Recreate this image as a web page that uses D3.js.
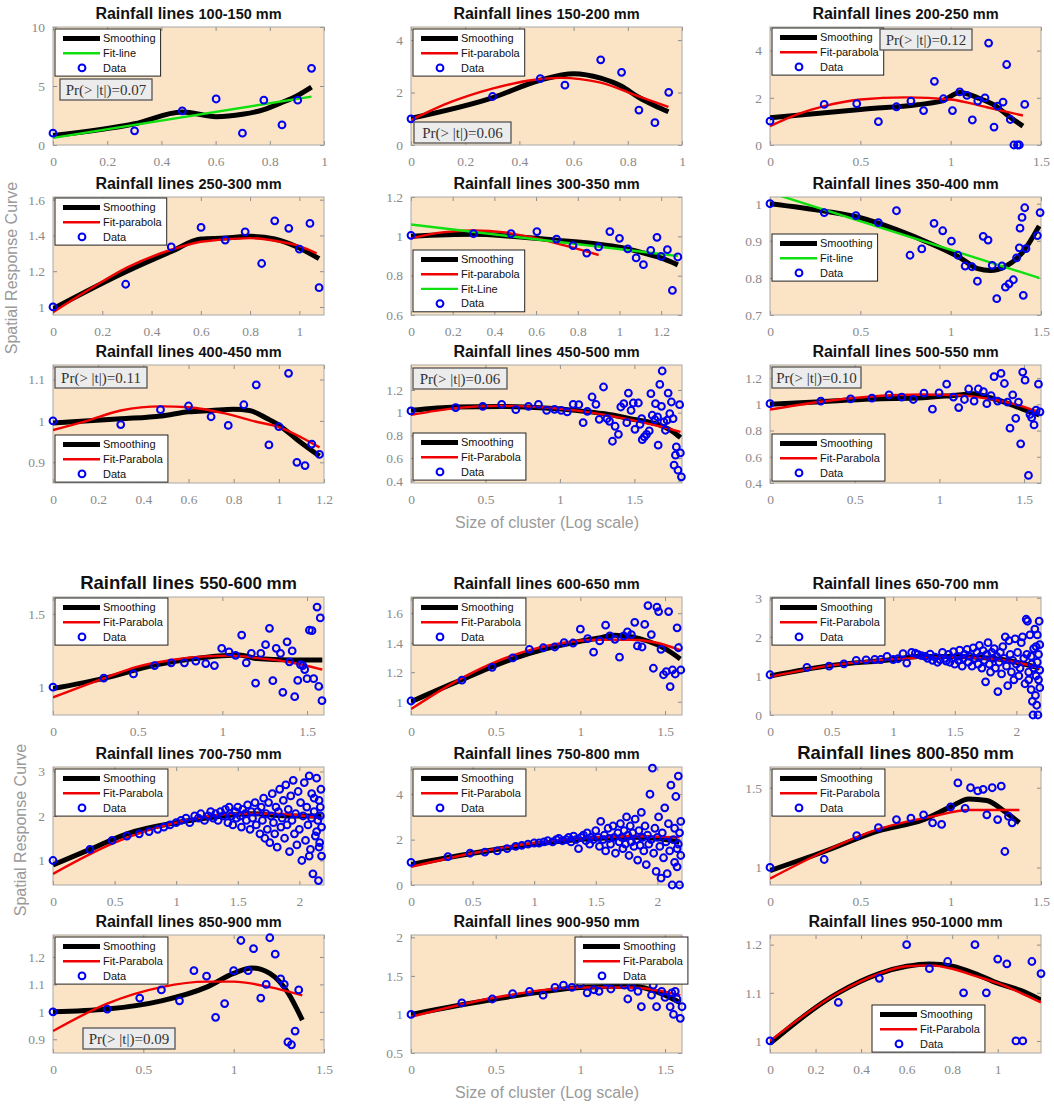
<!DOCTYPE html>
<html>
<head>
<meta charset="utf-8">
<script src="https://cdn.jsdelivr.net/npm/d3@7"></script>
<style>
  body { margin: 0; background: #fff; }
  svg { display: block; font-family: "Liberation Sans", Arial, sans-serif; }
</style>
</head>
<body>
<div id="chart"></div>
<script>
// ---- data (x = log10 cluster size) ----

const ranges = ["100-150", "150-200", "200-250", "250-300", "300-350", "350-400",
  "400-450", "450-500", "500-550", "550-600", "600-650", "650-700",
  "700-750", "750-800", "800-850", "850-900", "900-950", "950-1000"];

// 100-150
const pts100 = [[0,1.0],[0.301,1.2],[0.477,2.9],[0.602,3.9],[0.699,1.0],[0.778,3.8],[0.845,1.7],[0.903,3.8],[0.954,6.5]];
const sm100 = [[0,0.8],[0.301,1.8],[0.477,2.8],[0.602,2.4],[0.699,2.6],[0.778,3.0],[0.845,3.6],[0.903,4.2],[0.954,4.9]];
const fl100 = [[0,0.6],[0.954,4.1]];

// 150-200
const pts150 = [[0,1.0],[0.301,1.85],[0.477,2.53],[0.568,2.28],[0.7,3.25],[0.777,2.77],[0.841,1.33],[0.9,0.85],[0.951,2.01]];
const sm150 = [[0,1.02],[0.3,1.8],[0.476,2.47],[0.6,2.72],[0.7,2.55],[0.777,2.24],[0.84,1.82],[0.9,1.5],[0.95,1.27]];
const fp150 = [[0,0.95],[0.15,1.65],[0.3,2.15],[0.45,2.48],[0.55,2.56],[0.7,2.38],[0.84,1.85],[0.95,1.45]];

// 200-250
const pts200 = [[0,1.01],[0.3,1.72],[0.48,1.75],[0.6,0.99],[0.7,1.62],[0.78,1.86],[0.85,1.46],[0.91,2.7],[0.96,1.96],[1.01,1.46],[1.05,2.25],[1.09,2.1],[1.12,1.06],[1.15,1.86],[1.19,2.0],[1.21,4.32],[1.24,0.76],[1.26,1.65],[1.29,1.82],[1.31,3.41],[1.33,1.08],[1.35,0],[1.37,0],[1.38,0],[1.41,1.72]];
const sm200 = [[0,1.15],[0.5,1.5],[0.95,1.86],[1.05,2.22],[1.15,2.0],[1.25,1.65],[1.32,1.23],[1.4,0.8]];
const fp200 = [[0,0.8],[0.15,1.3],[0.3,1.65],[0.5,1.93],[0.75,2.02],[1.0,1.93],[1.2,1.6],[1.4,1.25]];

// 250-300
const pts250 = [[0,1.0],[0.295,1.127],[0.48,1.336],[0.601,1.445],[0.699,1.374],[0.78,1.42],[0.847,1.243],[0.9,1.482],[0.957,1.44],[1.0,1.323],[1.043,1.467],[1.08,1.108]];
const sm250 = [[0,0.99],[0.3,1.2],[0.48,1.31],[0.6,1.38],[0.7,1.385],[0.8,1.395],[0.9,1.38],[1.0,1.33],[1.08,1.27]];
const fp250 = [[0,0.97],[0.15,1.1],[0.3,1.22],[0.48,1.32],[0.6,1.365],[0.8,1.385],[0.9,1.37],[1.0,1.34],[1.07,1.3]];

// 300-350
const pts300 = [[0,1.005],[0.3,1.014],[0.48,1.014],[0.604,1.024],[0.698,0.986],[0.777,0.953],[0.843,0.915],[0.9,0.946],[0.954,1.024],[1.0,0.99],[1.04,0.936],[1.08,0.89],[1.115,0.856],[1.15,0.929],[1.18,0.995],[1.2,0.898],[1.23,0.932],[1.254,0.725],[1.28,0.895]];
const sm300 = [[0,1.0],[0.3,1.01],[0.48,1.0],[0.7,0.98],[0.9,0.96],[1.0,0.945],[1.1,0.92],[1.2,0.89],[1.28,0.855]];
const fp300 = [[0,0.99],[0.15,1.02],[0.3,1.03],[0.45,1.02],[0.6,0.99],[0.75,0.95],[0.9,0.905]];
const fl300 = [[0,1.06],[1.28,0.9]];

// 350-400
const pts350 = [[0,1.0],[0.3,0.976],[0.476,0.968],[0.6,0.949],[0.7,0.981],[0.775,0.861],[0.84,0.878],[0.908,0.947],[0.956,0.927],[1.004,0.899],[1.04,0.861],[1.08,0.832],[1.118,0.83],[1.148,0.791],[1.18,0.912],[1.207,0.902],[1.23,0.834],[1.255,0.744],[1.284,0.832],[1.303,0.775],[1.323,0.784],[1.347,0.795],[1.365,0.854],[1.38,0.881],[1.384,0.934],[1.395,0.963],[1.402,0.753],[1.41,0.989],[1.417,0.879],[1.48,0.914],[1.495,0.976]];
const sm350 = [[0,1.0],[0.3,0.98],[0.5,0.962],[0.7,0.93],[0.9,0.89],[1.05,0.855],[1.15,0.825],[1.22,0.82],[1.3,0.83],[1.4,0.87],[1.49,0.94]];
const fl350 = [[0,1.03],[1.49,0.8]];

// 400-450
const pts400 = [[0,1.0],[0.3,0.991],[0.476,1.027],[0.6,1.036],[0.7,1.01],[0.776,0.989],[0.845,1.039],[0.9,1.087],[0.956,0.942],[1.0,0.986],[1.043,1.115],[1.08,0.9],[1.116,0.892],[1.146,0.944],[1.18,0.919]];
const sm400 = [[0,0.995],[0.3,1.005],[0.48,1.012],[0.6,1.022],[0.7,1.025],[0.8,1.028],[0.87,1.025],[0.95,1.005],[1.0,0.99],[1.08,0.955],[1.18,0.915]];
const fp400 = [[0,0.978],[0.15,1.0],[0.3,1.025],[0.48,1.035],[0.6,1.033],[0.77,1.017],[0.9,0.998],[1.0,0.985],[1.1,0.96],[1.18,0.936]];

// 450-500
const pts450 = [[0,1.015],[0.3,1.044],[0.482,1.056],[0.609,1.073],[0.704,1.026],[0.789,1.056],[0.856,1.073],[0.911,1.02],[0.964,1.029],[1.009,1.02],[1.049,1.006],[1.089,1.073],[1.127,1.07],[1.156,0.912],[1.184,1.012],[1.216,1.138],[1.242,1.073],[1.264,0.941],[1.293,1.226],[1.316,0.947],[1.333,0.924],[1.353,0.748],[1.371,0.88],[1.393,0.809],[1.409,1.05],[1.429,1.079],[1.449,0.912],[1.46,1.173],[1.478,1.02],[1.493,1.085],[1.504,0.853],[1.527,1.085],[1.538,0.897],[1.549,0.947],[1.553,0.762],[1.567,0.786],[1.582,0.809],[1.6,0.839],[1.611,1.167],[1.62,0.977],[1.638,0.938],[1.642,1.079],[1.656,0.962],[1.66,0.713],[1.671,1.249],[1.682,1.056],[1.687,1.367],[1.698,0.918],[1.709,0.845],[1.72,0.933],[1.727,1.173],[1.738,0.991],[1.749,1.094],[1.76,0.947],[1.767,0.537],[1.776,0.625],[1.782,0.698],[1.793,0.493],[1.804,1.07],[1.809,0.645],[1.816,0.434]];
const sm450 = [[0,1.02],[0.3,1.05],[0.6,1.055],[0.9,1.04],[1.1,1.02],[1.3,0.99],[1.5,0.94],[1.65,0.9],[1.75,0.84],[1.81,0.78]];
const fp450 = [[0,0.98],[0.3,1.04],[0.6,1.06],[0.9,1.045],[1.1,1.02],[1.3,0.98],[1.5,0.93],[1.65,0.885],[1.81,0.83]];

// 500-550
const pts500 = [[0,1.005],[0.3,1.025],[0.476,1.042],[0.602,1.047],[0.703,1.072],[0.778,1.055],[0.846,1.037],[0.909,1.085],[0.959,0.963],[0.998,1.087],[1.043,1.154],[1.083,1.055],[1.114,0.975],[1.148,1.037],[1.173,1.117],[1.205,1.025],[1.23,1.117],[1.26,1.097],[1.28,1.005],[1.305,1.067],[1.323,1.211],[1.344,1.025],[1.364,1.236],[1.384,1.159],[1.402,1.017],[1.417,0.818],[1.433,1.072],[1.451,0.893],[1.467,1.017],[1.48,0.699],[1.492,1.246],[1.506,1.184],[1.526,0.458],[1.535,0.923],[1.545,0.898],[1.559,0.843],[1.571,0.955],[1.585,1.154],[1.594,0.943]];
const sm500 = [[0,1.0],[0.3,1.02],[0.6,1.04],[0.9,1.05],[1.1,1.07],[1.2,1.08],[1.3,1.05],[1.4,1.01],[1.5,0.96],[1.59,0.92]];
const fp500 = [[0,0.96],[0.3,1.02],[0.6,1.06],[0.9,1.075],[1.1,1.07],[1.3,1.04],[1.45,1.0],[1.59,0.94]];

// 550-600
const pts550 = [[0,1.0],[0.3,1.062],[0.475,1.09],[0.6,1.147],[0.698,1.166],[0.776,1.166],[0.843,1.177],[0.902,1.161],[0.953,1.147],[0.996,1.265],[1.039,1.24],[1.078,1.217],[1.114,1.355],[1.141,1.166],[1.171,1.23],[1.196,1.028],[1.227,1.23],[1.255,1.29],[1.278,1.401],[1.298,1.044],[1.318,1.265],[1.343,1.23],[1.357,0.965],[1.382,1.309],[1.396,1.173],[1.412,1.247],[1.427,0.935],[1.445,1.046],[1.461,1.154],[1.475,1.147],[1.486,1.12],[1.5,1.058],[1.514,1.389],[1.529,1.385],[1.539,1.058],[1.559,1.546],[1.569,1.005],[1.578,1.472],[1.588,0.908]];
const sm550 = [[0,0.99],[0.3,1.06],[0.6,1.15],[0.8,1.19],[1.0,1.215],[1.1,1.22],[1.2,1.195],[1.4,1.185],[1.59,1.185]];
const fp550 = [[0,0.93],[0.3,1.06],[0.5,1.14],[0.7,1.185],[0.9,1.21],[1.05,1.215],[1.2,1.2],[1.4,1.17],[1.59,1.12]];

// 600-650
const pts600 = [[0,1.005],[0.301,1.146],[0.479,1.233],[0.601,1.297],[0.699,1.355],[0.781,1.366],[0.849,1.371],[0.904,1.4],[0.957,1.398],[1.0,1.492],[1.043,1.428],[1.078,1.336],[1.114,1.412],[1.149,1.519],[1.174,1.446],[1.204,1.423],[1.231,1.302],[1.256,1.446],[1.278,1.474],[1.301,1.455],[1.321,1.538],[1.337,1.378],[1.364,1.371],[1.38,1.524],[1.399,1.652],[1.419,1.455],[1.431,1.227],[1.452,1.641],[1.462,1.611],[1.476,1.355],[1.491,1.183],[1.507,1.204],[1.521,1.611],[1.53,1.103],[1.544,1.215],[1.56,1.188],[1.571,1.501],[1.579,1.366],[1.593,1.215]];
const sm600 = [[0,1.0],[0.3,1.15],[0.6,1.29],[0.8,1.36],[1.0,1.41],[1.1,1.43],[1.2,1.45],[1.3,1.44],[1.4,1.41],[1.5,1.36],[1.59,1.29]];
const fp600 = [[0,0.95],[0.3,1.16],[0.5,1.27],[0.7,1.35],[0.9,1.4],[1.1,1.42],[1.3,1.42],[1.45,1.4],[1.59,1.35]];

// 650-700
const pts650 = [[0,1.03],[0.3,1.22],[0.48,1.25],[0.6,1.31],[0.7,1.4],[0.78,1.41],[0.85,1.42],[0.9,1.42],[0.95,1.5],[1.0,1.42],[1.04,1.44],[1.08,1.57],[1.11,1.33],[1.15,1.6],[1.18,1.58],[1.2,1.55],[1.23,1.52],[1.26,1.5],[1.28,1.45],[1.3,1.56],[1.32,1.4],[1.34,1.48],[1.36,1.35],[1.38,1.42],[1.4,1.6],[1.42,1.45],[1.43,1.38],[1.45,1.55],[1.46,1.35],[1.48,1.45],[1.49,1.62],[1.5,1.3],[1.52,1.5],[1.53,1.4],[1.54,1.66],[1.56,1.25],[1.57,1.45],[1.58,1.55],[1.6,1.68],[1.61,1.35],[1.62,1.5],[1.64,1.25],[1.65,1.72],[1.66,1.45],[1.68,1.6],[1.69,1.3],[1.7,1.78],[1.71,1.5],[1.72,1.2],[1.73,1.65],[1.74,1.4],[1.75,0.85],[1.76,1.55],[1.77,1.85],[1.78,1.3],[1.79,1.1],[1.8,1.6],[1.81,1.45],[1.82,1.7],[1.83,1.2],[1.84,1.5],[1.85,0.6],[1.86,1.35],[1.87,1.6],[1.88,1.05],[1.89,1.75],[1.9,1.45],[1.91,2.0],[1.92,1.25],[1.93,0.75],[1.94,1.9],[1.95,1.55],[1.96,1.1],[1.97,1.4],[1.98,0.9],[1.99,1.95],[2.0,1.3],[2.01,1.6],[2.02,1.0],[2.03,1.2],[2.04,1.85],[2.05,2.0],[2.06,1.45],[2.07,0.8],[2.08,2.45],[2.085,1.55],[2.09,2.4],[2.1,1.1],[2.11,2.05],[2.12,0.65],[2.125,1.3],[2.13,0.35],[2.135,0.0],[2.14,1.7],[2.15,2.2],[2.155,0.5],[2.16,1.0],[2.165,0.25],[2.17,2.05],[2.175,0.0],[2.18,1.55],[2.185,2.4],[2.19,0.7],[2.19,1.8],[2.19,1.15],[2.18,0.9],[2.17,1.35],[2.16,1.75],[2.14,1.2],[2.12,1.5],[2.1,0.9]];
const sm650 = [[0,1.0],[0.5,1.27],[1.0,1.42],[1.2,1.5],[1.5,1.5],[1.8,1.45],[2.0,1.35],[2.19,1.2]];
const fp650 = [[0,0.98],[0.5,1.27],[1.0,1.43],[1.5,1.48],[1.8,1.44],[2.0,1.35],[2.19,1.2]];

// 700-750
const pts700 = [[0,1.0],[0.3,1.25],[0.48,1.45],[0.6,1.55],[0.7,1.6],[0.78,1.65],[0.85,1.7],[0.9,1.75],[0.95,1.8],[1.0,1.85],[1.04,1.9],[1.08,1.95],[1.11,1.85],[1.15,2.0],[1.18,1.95],[1.2,2.05],[1.23,1.9],[1.26,2.0],[1.28,2.1],[1.3,1.95],[1.32,2.05],[1.34,1.9],[1.36,2.1],[1.38,2.0],[1.4,2.15],[1.42,1.85],[1.43,2.2],[1.45,2.0],[1.46,1.8],[1.48,2.1],[1.49,1.95],[1.5,2.2],[1.52,2.0],[1.53,1.75],[1.54,2.15],[1.56,2.05],[1.57,1.9],[1.58,2.25],[1.6,1.7],[1.61,2.1],[1.62,1.95],[1.64,2.3],[1.65,1.8],[1.66,2.1],[1.68,1.6],[1.69,2.2],[1.7,1.9],[1.71,2.4],[1.72,1.5],[1.73,2.05],[1.74,1.7],[1.75,2.3],[1.76,1.4],[1.77,2.0],[1.78,2.5],[1.79,1.85],[1.8,1.6],[1.81,2.2],[1.82,1.3],[1.83,2.1],[1.84,2.6],[1.85,1.75],[1.86,1.95],[1.87,2.35],[1.88,1.5],[1.89,2.7],[1.9,1.8],[1.91,2.15],[1.92,1.2],[1.93,2.45],[1.94,1.9],[1.95,2.8],[1.96,1.6],[1.97,2.05],[1.98,1.35],[1.99,2.55],[2.0,1.7],[2.01,2.3],[2.02,1.0],[2.03,2.0],[2.04,2.75],[2.05,1.45],[2.06,2.2],[2.07,1.8],[2.08,2.9],[2.09,1.25],[2.1,2.5],[2.11,0.7],[2.12,2.1],[2.13,1.55],[2.14,2.85],[2.15,1.9],[2.155,0.55],[2.16,2.35],[2.165,1.4],[2.17,2.0],[2.175,2.6],[2.18,1.1],[2.18,1.75],[2.17,2.2],[2.16,1.3],[2.14,1.65],[2.12,2.4],[2.1,1.95],[2.08,1.1]];
const sm700 = [[0,0.9],[0.3,1.25],[0.6,1.6],[1.0,1.85],[1.3,1.97],[1.6,2.05],[1.9,2.0],[2.18,2.0]];
const fp700 = [[0,0.7],[0.5,1.4],[1.0,1.85],[1.5,2.05],[1.8,2.05],[2.18,1.95]];

// 750-800
const pts750 = [[0,1.0],[0.3,1.25],[0.48,1.4],[0.6,1.45],[0.7,1.5],[0.78,1.6],[0.85,1.7],[0.9,1.75],[0.95,1.8],[1.0,1.85],[1.04,1.85],[1.08,1.9],[1.11,1.95],[1.15,1.9],[1.18,2.0],[1.2,2.05],[1.23,1.95],[1.26,2.0],[1.28,2.1],[1.3,1.9],[1.32,2.15],[1.34,2.0],[1.36,1.6],[1.38,2.1],[1.4,2.2],[1.42,1.95],[1.43,2.3],[1.45,1.8],[1.46,2.1],[1.48,2.0],[1.5,2.4],[1.52,2.1],[1.53,1.7],[1.54,2.8],[1.56,2.0],[1.57,2.2],[1.58,1.5],[1.6,2.5],[1.61,2.05],[1.62,1.8],[1.64,2.6],[1.65,2.1],[1.66,1.4],[1.68,2.3],[1.69,1.9],[1.7,2.7],[1.71,2.1],[1.72,1.6],[1.73,2.4],[1.74,1.8],[1.75,3.0],[1.76,2.2],[1.77,1.3],[1.78,2.6],[1.79,1.9],[1.8,2.3],[1.81,1.7],[1.82,2.9],[1.83,2.0],[1.84,1.1],[1.85,2.4],[1.86,1.75],[1.87,3.2],[1.88,2.1],[1.89,1.5],[1.9,2.6],[1.91,0.9],[1.92,2.2],[1.93,1.8],[1.94,4.0],[1.95,2.0],[1.96,5.15],[1.97,1.4],[1.98,2.5],[1.99,0.6],[2.0,2.1],[2.01,3.0],[2.02,1.7],[2.03,0.3],[2.04,2.3],[2.05,1.2],[2.06,3.4],[2.07,1.9],[2.08,0.5],[2.09,2.7],[2.1,1.5],[2.11,4.4],[2.12,0.0],[2.13,2.0],[2.14,1.0],[2.15,3.9],[2.16,1.6],[2.17,4.8],[2.18,2.3],[2.18,0.0],[2.19,1.3],[2.19,2.8],[2.17,1.8],[2.16,0.8],[2.14,2.5]];
const sm750 = [[0,0.9],[0.5,1.4],[1.0,1.8],[1.5,2.05],[1.8,2.1],[2.0,2.05],[2.18,1.9]];
const fp750 = [[0,0.8],[0.5,1.4],[1.0,1.85],[1.5,2.1],[1.8,2.15],[2.18,2.1]];

// 800-850
const pts800 = [[0,1.0],[0.3,1.05],[0.48,1.2],[0.6,1.25],[0.7,1.3],[0.78,1.31],[0.85,1.33],[0.9,1.28],[0.95,1.27],[1.0,1.38],[1.04,1.53],[1.08,1.37],[1.11,1.5],[1.15,1.48],[1.18,1.49],[1.2,1.33],[1.23,1.5],[1.26,1.3],[1.28,1.51],[1.3,1.1],[1.32,1.32],[1.34,1.28]];
const sm800 = [[0,0.98],[0.3,1.1],[0.6,1.23],[0.85,1.3],[1.0,1.38],[1.1,1.43],[1.2,1.42],[1.3,1.35],[1.38,1.28]];
const fp800 = [[0,0.93],[0.3,1.1],[0.6,1.24],[0.9,1.32],[1.1,1.36],[1.38,1.36]];

// 850-900
const pts850 = [[0,1.0],[0.3,1.01],[0.48,1.05],[0.6,1.08],[0.7,1.04],[0.78,1.15],[0.85,1.13],[0.9,0.98],[0.95,1.03],[1.0,1.15],[1.04,1.26],[1.08,1.15],[1.11,1.23],[1.15,1.05],[1.18,1.1],[1.2,1.27],[1.23,1.21],[1.26,1.12],[1.28,1.1],[1.3,0.89],[1.32,0.88],[1.34,0.93],[1.36,1.08]];
const sm850 = [[0,1.0],[0.3,1.01],[0.6,1.04],[0.85,1.09],[1.0,1.14],[1.1,1.16],[1.2,1.14],[1.3,1.07],[1.38,0.97]];
const fp850 = [[0,0.93],[0.3,1.03],[0.6,1.09],[0.85,1.11],[1.0,1.11],[1.2,1.09],[1.38,1.06]];

// 900-950
const pts900 = [[0,1.0],[0.3,1.15],[0.48,1.2],[0.6,1.27],[0.7,1.3],[0.78,1.25],[0.85,1.35],[0.9,1.38],[0.95,1.35],[1.0,1.4],[1.04,1.28],[1.08,1.32],[1.11,1.3],[1.15,1.42],[1.18,1.33],[1.2,1.45],[1.23,1.5],[1.26,1.38],[1.28,1.2],[1.3,1.35],[1.32,1.62],[1.34,1.3],[1.36,1.1],[1.38,1.45],[1.4,1.77],[1.42,1.25],[1.43,1.38],[1.45,1.1],[1.46,1.5],[1.48,1.3],[1.5,1.22],[1.52,1.6],[1.53,1.1],[1.54,1.28],[1.55,1.0],[1.56,1.3],[1.57,1.2],[1.58,1.45],[1.59,0.95],[1.6,1.1]];
const sm900 = [[0,1.0],[0.5,1.2],[1.0,1.35],[1.3,1.37],[1.5,1.25],[1.59,1.15]];
const fp900 = [[0,0.97],[0.5,1.22],[1.0,1.35],[1.3,1.35],[1.59,1.25]];

// 950-1000
const pts950 = [[0,1.0],[0.3,1.08],[0.48,1.13],[0.6,1.2],[0.7,1.15],[0.78,1.165],[0.85,1.1],[0.9,1.2],[0.95,1.1],[1.0,1.17],[1.04,1.16],[1.08,1.0],[1.11,1.0],[1.15,1.165],[1.19,1.14]];
const sm950 = [[0,0.995],[0.3,1.1],[0.48,1.14],[0.6,1.155],[0.7,1.16],[0.8,1.155],[0.9,1.14],[1.0,1.12],[1.1,1.105],[1.19,1.085]];
const fp950 = [[0,1.0],[0.3,1.1],[0.48,1.14],[0.6,1.155],[0.7,1.157],[0.8,1.15],[0.9,1.135],[1.0,1.12],[1.1,1.1],[1.19,1.08]];

// p-values shown in the boxes
const prValues = { "100-150": "0.07", "150-200": "0.06", "200-250": "0.12", "400-450": "0.11",
  "450-500": "0.06", "500-550": "0.10", "850-900": "0.09" };

// ---- layout ----
const W = 1054, H = 1106;
const BG = "#fbe4c5";
const cols = [53, 411, 770];
const rowTops = [27, 197, 365, 597, 767, 935];
const plotW = 271, plotH = 118;

const SM = { label: "Smoothing", color: "#000", width: 5 };
const red = (label) => ({ label, color: "#f00000", width: 2.4 });
const green = (label) => ({ label, color: "#10e010", width: 2.4 });

const t5 = [0, 0.5, 1, 1.5], t52 = [0, 0.5, 1, 1.5, 2], t2 = [0, 0.2, 0.4, 0.6, 0.8, 1];

const panels = [
  { pts: pts100, sm: sm100, fits: [[fl100, green("Fit-line")]], xd: [0, 1], yd: [0, 10], xt: t2, yt: [0, 5, 10], leg: [2, 2], pr: [7, 52, 92] },
  { pts: pts150, sm: sm150, fits: [[fp150, red("Fit-parabola")]], xd: [0, 1], yd: [0, 4.5], xt: t2, yt: [0, 2, 4], leg: [2, 2], pr: [3, 95, 97] },
  { pts: pts200, sm: sm200, fits: [[fp200, red("Fit-parabola")]], xd: [0, 1.5], yd: [0, 5], xt: t5, yt: [0, 2, 4], leg: [2, 1], pr: [110, 2, 92] },
  { pts: pts250, sm: sm250, fits: [[fp250, red("Fit-parabola")]], xd: [0, 1.1], yd: [0.955, 1.615], xt: t2, yt: [1, 1.2, 1.4, 1.6], leg: [2, 1] },
  { pts: pts300, sm: sm300, fits: [[fp300, red("Fit-parabola")], [fl300, green("Fit-Line")]], xd: [0, 1.3], yd: [0.6, 1.2], xt: [0, 0.2, 0.4, 0.6, 0.8, 1, 1.2], yt: [0.6, 0.8, 1, 1.2], leg: [2, 53] },
  { pts: pts350, sm: sm350, fits: [[fl350, green("Fit-line")]], xd: [0, 1.5], yd: [0.7, 1.018], xt: t5, yt: [0.7, 0.8, 0.9, 1], leg: [2, 37] },
  { pts: pts400, sm: sm400, fits: [[fp400, red("Fit-Parabola")]], xd: [0, 1.2], yd: [0.85, 1.135], xt: [0, 0.2, 0.4, 0.6, 0.8, 1, 1.2], yt: [0.9, 1, 1.1], leg: [2, 70], pr: [2, 2, 92] },
  { pts: pts450, sm: sm450, fits: [[fp450, red("Fit-Parabola")]], xd: [0, 1.82], yd: [0.38, 1.42], xt: t5, yt: [0.4, 0.6, 0.8, 1, 1.2], leg: [2, 68], pr: [2, 3, 94] },
  { pts: pts500, sm: sm500, fits: [[fp500, red("Fit-Parabola")]], xd: [0, 1.6], yd: [0.4, 1.3], xt: t5, yt: [0.4, 0.6, 0.8, 1, 1.2], leg: [2, 69], pr: [2, 2, 89] },
  { pts: pts550, sm: sm550, fits: [[fp550, red("Fit-Parabola")]], xd: [0, 1.6], yd: [0.81, 1.615], xt: t5, yt: [1, 1.5], leg: [2, 1], big: true },
  { pts: pts600, sm: sm600, fits: [[fp600, red("Fit-Parabola")]], xd: [0, 1.6], yd: [0.91, 1.71], xt: t5, yt: [1, 1.2, 1.4, 1.6], leg: [2, 1] },
  { pts: pts650, sm: sm650, fits: [[fp650, red("Fit-Parabola")]], xd: [0, 2.2], yd: [0, 3.02], xt: t52, yt: [0, 1, 2, 3], leg: [2, 1] },
  { pts: pts700, sm: sm700, fits: [[fp700, red("Fit-Parabola")]], xd: [0, 2.2], yd: [0.45, 3.1], xt: t52, yt: [1, 2, 3], leg: [2, 2] },
  { pts: pts750, sm: sm750, fits: [[fp750, red("Fit-Parabola")]], xd: [0, 2.2], yd: [0, 5.2], xt: t52, yt: [0, 2, 4], leg: [2, 2] },
  { pts: pts800, sm: sm800, fits: [[fp800, red("Fit-Parabola")]], xd: [0, 1.5], yd: [0.89, 1.63], xt: t5, yt: [1, 1.5], leg: [2, 2], big: true },
  { pts: pts850, sm: sm850, fits: [[fp850, red("Fit-Parabola")]], xd: [0, 1.5], yd: [0.85, 1.28], xt: t5, yt: [0.9, 1, 1.1, 1.2], leg: [2, 2], pr: [30, 93, 92] },
  { pts: pts900, sm: sm900, fits: [[fp900, red("Fit-Parabola")]], xd: [0, 1.6], yd: [0.5, 2.03], xt: t5, yt: [0.5, 1, 1.5, 2], leg: [164, 2] },
  { pts: pts950, sm: sm950, fits: [[fp950, red("Fit-Parabola")]], xd: [0, 1.19], yd: [0.975, 1.22], xt: t2, yt: [1, 1.1, 1.2], leg: [102, 70] }
];

const svg = d3.select("#chart").append("svg")
  .attr("width", W).attr("height", H);

svg.append("rect").attr("width", W).attr("height", H).attr("fill", "#fff");

const defs = svg.append("defs");

function styleAxis(ax) {
  ax.select(".domain").remove();
  ax.selectAll(".tick line").attr("stroke", "#8c8c8c");
  ax.selectAll(".tick text")
    .attr("fill", "#8a8a8a")
    .style("font-family", "'Liberation Serif', 'DejaVu Serif', serif")
    .style("font-size", "13.5px");
}

function drawPanel(p, i) {
  const left = cols[i % 3], top = rowTops[Math.floor(i / 3)];
  const g = svg.append("g").attr("transform", `translate(${left},${top})`);
  const x = d3.scaleLinear().domain(p.xd).range([0, plotW]);
  const y = d3.scaleLinear().domain(p.yd).range([plotH, 0]);

  g.append("rect").attr("width", plotW).attr("height", plotH).attr("fill", BG);

  // axes with inward ticks on all four sides (box style)
  const fmt = (d) => String(d);
  styleAxis(g.append("g").attr("transform", `translate(0,${plotH})`)
    .call(d3.axisBottom(x).tickValues(p.xt).tickSize(-4).tickPadding(11).tickFormat(fmt)));
  styleAxis(g.append("g")
    .call(d3.axisLeft(y).tickValues(p.yt).tickSize(-4).tickPadding(8).tickFormat(fmt)));
  styleAxis(g.append("g")
    .call(d3.axisTop(x).tickValues(p.xt).tickSize(-4).tickFormat("")));
  styleAxis(g.append("g").attr("transform", `translate(${plotW},0)`)
    .call(d3.axisRight(y).tickValues(p.yt).tickSize(-4).tickFormat("")));

  g.append("rect").attr("width", plotW).attr("height", plotH)
    .attr("fill", "none").attr("stroke", "#a8a8a8").attr("stroke-width", 1);

  const clipId = "clip" + i;
  defs.append("clipPath").attr("id", clipId)
    .append("rect").attr("width", plotW).attr("height", plotH);
  const inner = g.append("g").attr("clip-path", `url(#${clipId})`);

  const line = d3.line().x(d => x(d[0])).y(d => y(d[1])).curve(d3.curveMonotoneX);

  inner.append("path").datum(p.sm).attr("d", line)
    .attr("fill", "none").attr("stroke", SM.color).attr("stroke-width", SM.width)
    .attr("stroke-linejoin", "round");

  p.fits.forEach(([pts, st]) => {
    inner.append("path").datum(pts).attr("d", line)
      .attr("fill", "none").attr("stroke", st.color).attr("stroke-width", st.width);
  });

  g.append("g").selectAll("circle").data(p.pts).join("circle")
    .attr("cx", d => x(d[0])).attr("cy", d => y(d[1])).attr("r", 3.4)
    .attr("fill", "none").attr("stroke", "#0000f0").attr("stroke-width", 2);

  // title
  const title = g.append("text").attr("x", plotW / 2).attr("y", -8)
    .attr("text-anchor", "middle").attr("font-weight", "bold").attr("fill", "#111");
  title.append("tspan").attr("font-size", p.big ? "18.5px" : "16px").text("Rainfall lines ");
  title.append("tspan").attr("font-size", p.big ? "17px" : "14.5px").text(ranges[i] + " mm");

  // legend
  const entries = [SM].concat(p.fits.map(f => f[1])).concat([{ label: "Data", dot: true }]);
  const lg = g.append("g").attr("transform", `translate(${p.leg[0]},${p.leg[1]})`);
  const box = lg.append("rect").attr("fill", "#fff").attr("stroke", "#222").attr("stroke-width", 1);
  let maxW = 0;
  entries.forEach((e, k) => {
    const cy = 9.5 + k * 14.7;
    if (e.dot) {
      lg.append("circle").attr("cx", 27).attr("cy", cy).attr("r", 3.4)
        .attr("fill", "none").attr("stroke", "#0000f0").attr("stroke-width", 2);
    } else {
      lg.append("line").attr("x1", 8).attr("x2", 45).attr("y1", cy).attr("y2", cy)
        .attr("stroke", e.color).attr("stroke-width", e.width);
    }
    const t = lg.append("text").attr("x", 48).attr("y", cy).attr("dy", "0.35em")
      .attr("font-size", "11px").attr("fill", "#111").text(e.label);
    maxW = Math.max(maxW, t.node().getComputedTextLength());
  });
  box.attr("width", 48 + maxW + 5).attr("height", entries.length * 14.7 + 3);

  // p-value box
  if (p.pr) {
    const pb = g.append("g").attr("transform", `translate(${p.pr[0]},${p.pr[1]})`);
    pb.append("rect").attr("width", p.pr[2]).attr("height", 21)
      .attr("fill", "#ececec").attr("stroke", "#555").attr("stroke-width", 1.3);
    pb.append("text").attr("x", p.pr[2] / 2).attr("y", 15.5).attr("text-anchor", "middle")
      .style("font-family", "'Liberation Serif', serif").attr("font-size", "15px").attr("fill", "#333")
      .text("Pr(> |t|)=" + prValues[ranges[i]]);
  }
}

panels.forEach(drawPanel);

// shared axis labels for the two groups
const labelStyle = (s) => s.attr("fill", "#9a9a9a").attr("font-size", "16px").attr("text-anchor", "middle");
[[17, 268], [26, 830]].forEach(([lx, ly]) => {
  svg.append("text").attr("transform", `translate(${lx},${ly}) rotate(-90)`)
    .call(labelStyle).text("Spatial Response Curve");
});
[528, 1098].forEach(ly => {
  svg.append("text").attr("x", 547).attr("y", ly).call(labelStyle).text("Size of cluster (Log scale)");
});
</script>
</body>
</html>
